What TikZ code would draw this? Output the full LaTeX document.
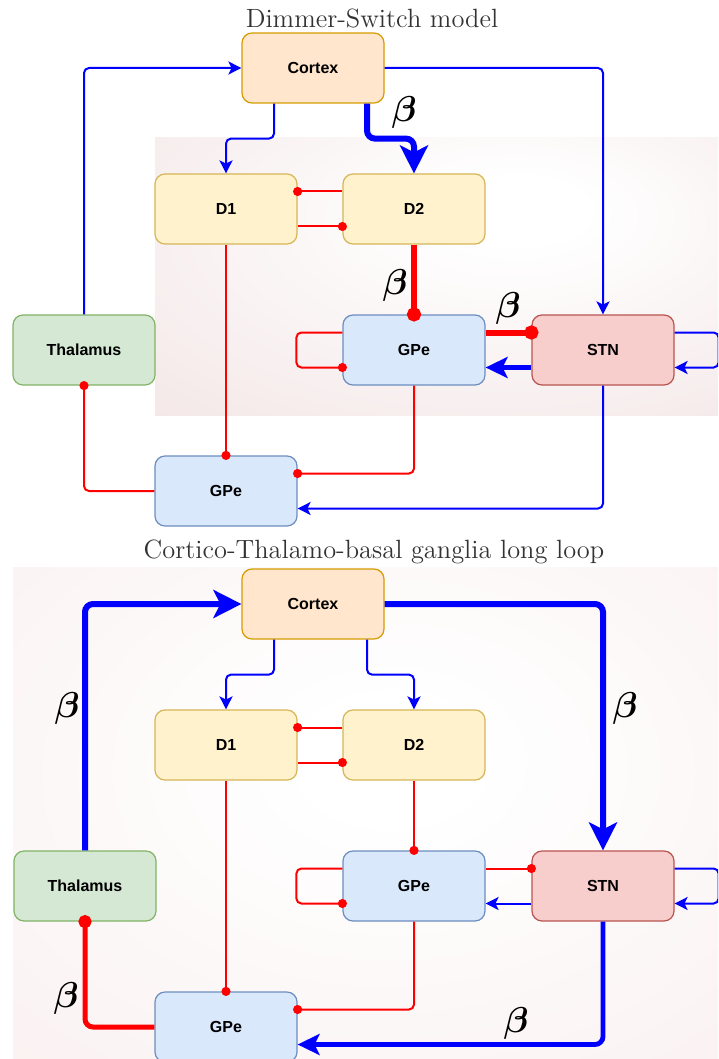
\RequirePackage{fix-cm}
\documentclass[tikz,border=0pt]{standalone}
\usepackage{fontspec}
\usepackage{bm}
\usetikzlibrary{arrows.meta,calc}
\newfontfamily\labelfont{Liberation Sans}

\definecolor{ctxfill}{HTML}{FFE6CC}\definecolor{ctxline}{HTML}{D79B00}
\definecolor{dfill}{HTML}{FFF2CC}\definecolor{dline}{HTML}{D6B656}
\definecolor{thfill}{HTML}{D5E8D4}\definecolor{thline}{HTML}{82B366}
\definecolor{gpfill}{HTML}{DAE8FC}\definecolor{gpline}{HTML}{6C8EBF}
\definecolor{stfill}{HTML}{F8CECC}\definecolor{stline}{HTML}{B85450}
\definecolor{bgtop}{HTML}{F2E3E3}
\definecolor{bgbot}{HTML}{F9EDED}
\definecolor{exc}{HTML}{0000FF}
\definecolor{inh}{HTML}{FF0000}

\pgfdeclareradialshading{glowtop}{\pgfpoint{8bp}{13bp}}{color(0bp)=(white); color(6bp)=(white); color(50bp)=(bgtop); color(75bp)=(bgtop)}
\pgfdeclareradialshading{glowbot}{\pgfpoint{2bp}{6bp}}{color(0bp)=(white); color(6bp)=(white); color(50bp)=(bgbot); color(75bp)=(bgbot)}

\begin{document}
\begin{tikzpicture}[x=0.5pt,y=-0.5pt,
  block/.style={rectangle, rounded corners=5pt, minimum width=71pt, minimum height=35pt,
    line width=0.6pt, font=\labelfont\bfseries\fontsize{8}{9}\selectfont, inner sep=0pt},
  ctxbox/.style={block, fill=ctxfill, draw=ctxline},
  dbox/.style={block, fill=dfill, draw=dline},
  thbox/.style={block, fill=thfill, draw=thline},
  gpbox/.style={block, fill=gpfill, draw=gpline},
  stbox/.style={block, fill=stfill, draw=stline},
  titletext/.style={anchor=base, text=black!80, font=\fontsize{13.2}{16}\selectfont},
  betalabel/.style={font=\fontsize{18}{21}\selectfont, inner sep=0pt},
  excite/.style={draw=exc, line width=1pt, rounded corners=2.5pt,
    -{Stealth[length=6.5pt,width=6.5pt,inset=1.6pt]}},
  excitebig/.style={draw=exc, line width=3pt, rounded corners=4pt,
    -{Stealth[length=14pt,width=14pt,inset=3.5pt]}},
  excitemid/.style={draw=exc, line width=2.4pt, rounded corners=4pt,
    -{Stealth[length=11pt,width=10.5pt,inset=2.5pt]}},
  inhib/.style={draw=inh, line width=1pt, rounded corners=2.5pt,
    -{Circle[length=4.5pt]}, shorten >=-2.25pt},
  inhibbig/.style={draw=inh, line width=3pt, rounded corners=4pt,
    -{Circle[length=7pt]}, shorten >=-3.5pt},
  inhibmid/.style={draw=inh, line width=2.5pt, rounded corners=4pt,
    -{Circle[length=6.5pt]}, shorten >=-3.25pt}
]
\useasboundingbox (0,0) rectangle (718,1059);
\clip (0,0) rectangle (718,1059);

% ---------------- Dimmer-Switch model ----------------
\shade[shading=glowtop] (155,138) rectangle (718,415);
\node[titletext] (title1) at (372,28) {Dimmer-Switch model};

\node[ctxbox] (ctx) at (313,68) {Cortex};
\node[dbox] (d1) at (226,209) {D1};
\node[dbox] (d2) at (414,209) {D2};
\node[thbox] (thal) at (84,350) {Thalamus};
\node[gpbox] (gpe) at (414,350) {GPe};
\node[stbox] (stn) at (603,350) {STN};
\node[gpbox] (gpeb) at (226,491) {GPe};

\draw[excite] (thal.north) |- (ctx.west);
\draw[excite] (ctx.east) -| (stn.north);
\draw[excite] ($(ctx.south)+(-39,0)$) -- ++(0,35) -| (d1.north);
\draw[excitebig] ($(ctx.south)+(54,0)$) -- ++(0,35) -| (d2.north);
\draw[inhib] ($(d2.west)+(0,-17.5)$) -- ($(d1.east)+(0,-17.5)$);
\draw[inhib] ($(d1.east)+(0,17.5)$) -- ($(d2.west)+(0,17.5)$);
\draw[inhib] (d1.south) -- (gpeb.north);
\draw[inhibbig] (d2.south) -- (gpe.north);
\draw[inhibbig] ($(gpe.east)+(0,-17.5)$) -- ($(stn.west)+(0,-17.5)$);
\draw[excitemid] ($(stn.west)+(0,17.5)$) -- ($(gpe.east)+(0,17.5)$);
\draw[inhib] ($(gpe.west)+(0,-17.5)$) -- ++(-46,0) -- ++(0,35) -- ($(gpe.west)+(0,17.5)$);
\draw[excite] ($(stn.east)+(0,-17.5)$) -- ++(44,0) -- ++(0,35) -- ($(stn.east)+(0,17.5)$);
\draw[inhib] (gpe.south) |- ($(gpeb.east)+(0,-17.5)$);
\draw[inhib] (gpeb.west) -| (thal.south);
\draw[excite] (stn.south) |- ($(gpeb.east)+(0,17.5)$);

\node[betalabel] (b1) at (404,113) {$\bm{\beta}$};
\node[betalabel] (b2) at (395,285) {$\bm{\beta}$};
\node[betalabel] (b3) at (508,308) {$\bm{\beta}$};

% ---------------- Long loop ----------------
\shade[shading=glowbot] (13,567) rectangle (718,1059);
\node[titletext] (title2) at (374,558) {Cortico-Thalamo-basal ganglia long loop};

\node[ctxbox] (ctxL) at (313,604) {Cortex};
\node[dbox] (d1L) at (226,745) {D1};
\node[dbox] (d2L) at (414,745) {D2};
\node[thbox] (thalL) at (85,886) {Thalamus};
\node[gpbox] (gpeL) at (414,886) {GPe};
\node[stbox] (stnL) at (603,886) {STN};
\node[gpbox] (gpebL) at (226,1027) {GPe};

\draw[excitebig] (thalL.north) |- (ctxL.west);
\draw[excitebig] (ctxL.east) -| (stnL.north);
\draw[excite] ($(ctxL.south)+(-39,0)$) -- ++(0,35) -| (d1L.north);
\draw[excite] ($(ctxL.south)+(54,0)$) -- ++(0,35) -| (d2L.north);
\draw[inhib] ($(d2L.west)+(0,-17.5)$) -- ($(d1L.east)+(0,-17.5)$);
\draw[inhib] ($(d1L.east)+(0,17.5)$) -- ($(d2L.west)+(0,17.5)$);
\draw[inhib] (d1L.south) -- (gpebL.north);
\draw[inhib] (d2L.south) -- (gpeL.north);
\draw[inhib] ($(gpeL.east)+(0,-17.5)$) -- ($(stnL.west)+(0,-17.5)$);
\draw[excite] ($(stnL.west)+(0,17.5)$) -- ($(gpeL.east)+(0,17.5)$);
\draw[inhib] ($(gpeL.west)+(0,-17.5)$) -- ++(-46,0) -- ++(0,35) -- ($(gpeL.west)+(0,17.5)$);
\draw[excite] ($(stnL.east)+(0,-17.5)$) -- ++(44,0) -- ++(0,35) -- ($(stnL.east)+(0,17.5)$);
\draw[inhib] (gpeL.south) |- ($(gpebL.east)+(0,-17.5)$);
\draw[inhibmid] (gpebL.west) -| (thalL.south);
\draw[excitemid] (stnL.south) |- ($(gpebL.east)+(0,17.5)$);

\node[betalabel] (b4) at (67,708) {$\bm{\beta}$};
\node[betalabel] (b5) at (625,708) {$\bm{\beta}$};
\node[betalabel] (b6) at (66,998) {$\bm{\beta}$};
\node[betalabel] (b7) at (516,1023) {$\bm{\beta}$};
\end{tikzpicture}
\end{document}
